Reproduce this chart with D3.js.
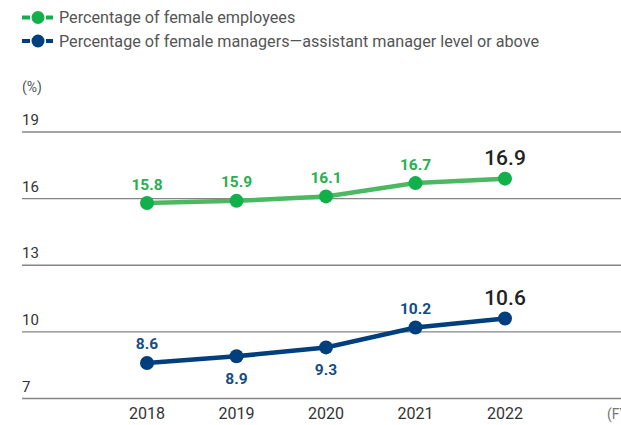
<!DOCTYPE html>
<html><head><meta charset="utf-8">
<script src="https://cdn.jsdelivr.net/npm/d3@7"></script>
<style>body{margin:0;background:#fff;} svg{display:block;font-family:Roboto, "Noto Sans", sans-serif;}</style>
</head><body>
<svg id="c" width="621" height="425"></svg>
<script>
const years = ["2018","2019","2020","2021","2022"];
const femaleEmployees = [15.8, 15.9, 16.1, 16.7, 16.9];
const femaleManagers = [8.6, 8.9, 9.3, 10.2, 10.6];
const employeeLabelPos = ["above","above","above","above","above"];
const managerLabelPos = ["above","below","below","above","above"];
const yTicks = [7, 10, 13, 16, 19];
const legendLabels = ["Percentage of female employees","Percentage of female managers\u2014assistant manager level or above"];
const unitLabel = "(%)";
const fyLabel = "(FY)";

const svg = d3.select("#c");
const x = d3.scalePoint().domain(years).range([147, 505]);
const y = d3.scaleLinear().domain([7, 19]).range([398.5, 132]);

const green = "#12b04b", greenLine = "#4cb962", blue = "#003f7d";

// legend
const colors = [green, blue];
legendLabels.forEach((t, i) => {
  const g = svg.append("g").attr("transform", `translate(0,${17.5 + i * 23.5})`);
  g.append("line").attr("x1", 22).attr("x2", 30).attr("y1", 0).attr("y2", 0).attr("stroke", colors[i]).attr("stroke-width", 4);
  g.append("line").attr("x1", 46).attr("x2", 53).attr("y1", 0).attr("y2", 0).attr("stroke", colors[i]).attr("stroke-width", 4);
  g.append("circle").attr("cx", 38).attr("cy", 0).attr("r", 6.5).attr("fill", colors[i]);
  g.append("text").attr("x", 59).attr("y", 5.5).attr("font-size", 16.2).attr("fill", "#555").text(t);
});

svg.append("text").attr("x", 22).attr("y", 92).attr("font-size", 14).attr("fill", "#555").text(unitLabel);

// grid
yTicks.forEach(v => {
  svg.append("line").attr("x1", 22).attr("x2", 621).attr("y1", y(v)).attr("y2", y(v))
    .attr("stroke", "#858585").attr("stroke-width", 1.3);
  svg.append("text").attr("x", 22).attr("y", y(v) - 7).attr("font-size", 15).attr("fill", "#333").text(v);
});

// x labels
years.forEach(yr => {
  svg.append("text").attr("x", x(yr)).attr("y", 419).attr("text-anchor", "middle").attr("font-size", 16).attr("fill", "#333").text(yr);
});
svg.append("text").attr("x", 607).attr("y", 419).attr("font-size", 14).attr("fill", "#777").text(fyLabel);

function series(vals, lineColor, dotColor, labelColor, pos) {
  const line = d3.line().x((d, i) => x(years[i])).y(d => y(d));
  svg.append("path").attr("d", line(vals)).attr("fill", "none").attr("stroke", lineColor).attr("stroke-width", 4.5);
  vals.forEach((v, i) => {
    svg.append("circle").attr("cx", x(years[i])).attr("cy", y(v)).attr("r", 7).attr("fill", dotColor);
    const last = i === vals.length - 1;
    const below = pos[i] === "below";
    svg.append("text").attr("x", x(years[i])).attr("y", below ? y(v) + 28 : y(v) - 13.5)
      .attr("text-anchor", "middle").attr("font-weight", last ? 500 : 700)
      .attr("font-size", last ? 21 : 15.5).attr("fill", last ? "#222" : labelColor).text(v.toFixed(1));
  });
}
series(femaleEmployees, greenLine, green, "#27b04e", employeeLabelPos);
series(femaleManagers, blue, blue, "#144d85", managerLabelPos);
</script>
</body></html>
